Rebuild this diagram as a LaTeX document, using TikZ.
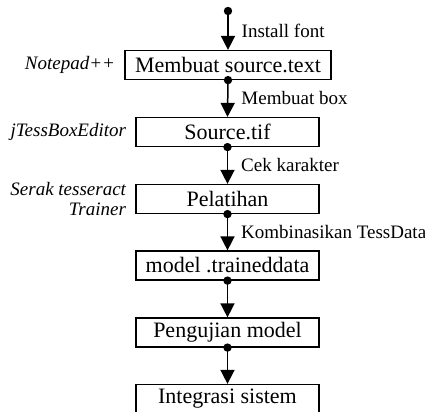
\documentclass[tikz,border=0pt]{standalone}
\usepackage{fontspec}
\setmainfont{Liberation Serif}
\usetikzlibrary{arrows.meta,positioning}

\begin{document}
\begin{tikzpicture}[x=0.5pt,y=-0.5pt]
	\tikzset{box/.style={draw,line width=0.6pt,minimum width=91.5pt,minimum height=14.5pt,inner sep=0pt,font=\rmfamily\fontsize{11}{13}\selectfont}}
	\tikzset{flow/.style={line width=0.75pt,-{Triangle[width=7pt,length=7pt]}}}
	\tikzset{lbl/.style={anchor=west,inner sep=0pt,xshift=6.5pt,font=\rmfamily\fontsize{9.5}{10}\selectfont}}
	\tikzset{tool/.style={anchor=east,inner sep=0pt,xshift=-4.5pt,align=right,font=\rmfamily\fontsize{9.5}{10}\selectfont\itshape}}
	\useasboundingbox (0,0) rectangle (425,412);
	% steps
	\coordinate (start) at (228,11);
	\node[box,minimum width=103pt] (membuat) at (228,65) {Membuat source.text};
	\node[box] (source) at (227.5,132) {Source.tif};
	\node[box] (pelatihan) at (227.5,199) {Pelatihan};
	\node[box] (model) at (227.5,265.5) {model .traineddata};
	\node[box] (pengujian) at (227.5,332.5) {Pengujian model};
	\node[box] (integrasi) at (227.5,399) {Integrasi sistem};
	% tools
	\node[tool] at (membuat.west) {Notepad++};
	\node[tool] at (source.west) {jTessBoxEditor};
	\node[tool] at (pelatihan.west) {Serak tesseract\\Trainer};
	% connectors
	\draw[flow] (start) -- node[lbl]{Install font} (membuat.north);
	\draw[flow] (membuat.south) -- node[lbl]{Membuat box} (source.north);
	\draw[flow] (source.south) -- node[lbl]{Cek karakter} (pelatihan.north);
	\draw[flow] (pelatihan.south) -- node[lbl]{Kombinasikan TessData} (model.north);
	\draw[flow] (model.south) -- (pengujian.north);
	\draw[flow] (pengujian.south) -- (integrasi.north);
	\foreach \n in {start,membuat.south,source.south,pelatihan.south,model.south,pengujian.south}
		\fill (\n) circle (2.1pt);
\end{tikzpicture}
\end{document}
